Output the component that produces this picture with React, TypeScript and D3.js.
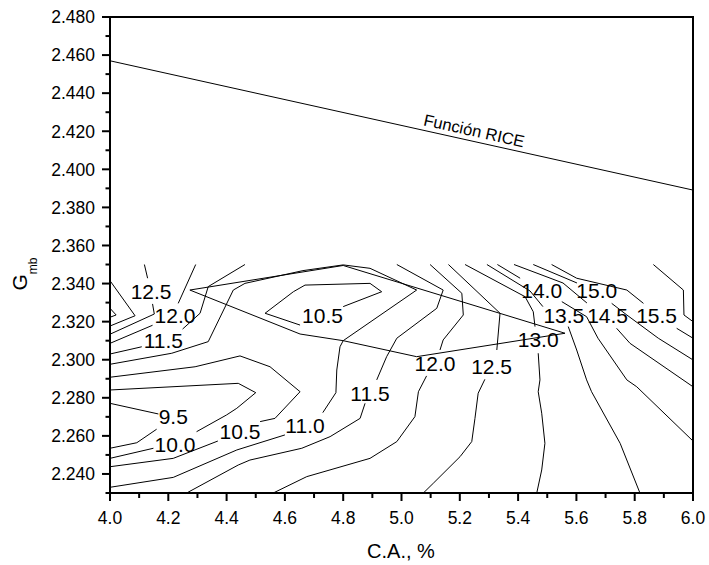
import React from "react";
import * as d3 from "d3";

type Pt = [number, number];

// axis settings
const X_DOMAIN: Pt = [4.0, 6.0];
const Y_DOMAIN: Pt = [2.23, 2.48];
const X_TICKS = [4.0, 4.2, 4.4, 4.6, 4.8, 5.0, 5.2, 5.4, 5.6, 5.8, 6.0];
const Y_TICKS = [2.24, 2.26, 2.28, 2.3, 2.32, 2.34, 2.36, 2.38, 2.4, 2.42, 2.44, 2.46, 2.48];

// RICE function line
const RICE_X = [4.0, 6.0];
const RICE_Y = [2.457, 2.3891];

// contour lines (each level: list of polylines in data units)
const C95: Pt[][] = [
  [[4.0, 2.2771], [4.166, 2.2715]],
  [[4.16, 2.2635], [4.092, 2.2564], [4.0, 2.2535]],
];
const C100: Pt[][] = [
  [[4.0, 2.2482], [4.149, 2.2535]],
  [[4.297, 2.2622], [4.4, 2.271], [4.435, 2.2745], [4.5, 2.2827], [4.44, 2.2876], [4.0, 2.2841]],
];
const C105: Pt[][] = [
  [[4.0, 2.2438], [4.217, 2.2482], [4.37, 2.2573]],
  [[4.515, 2.2675], [4.566, 2.2692], [4.652, 2.2832], [4.549, 2.2963], [4.446, 2.302], [4.292, 2.2963], [4.0, 2.2908]],
  [[4.8, 2.3279], [4.932, 2.3357], [4.892, 2.3401], [4.669, 2.3392], [4.629, 2.3357], [4.532, 2.3244], [4.652, 2.3182]],
];
const C110: Pt[][] = [
  [[4.0, 2.233], [4.217, 2.2382], [4.435, 2.2526], [4.6, 2.2605]],
  [[4.73, 2.2722], [4.775, 2.2827], [4.778, 2.2946], [4.789, 2.3068], [4.8, 2.31], [5.052, 2.3366], [4.892, 2.348], [4.8, 2.3498], [4.662, 2.3468], [4.463, 2.3401], [4.423, 2.3366], [4.337, 2.3095], [4.212, 2.3034], [4.0, 2.2976]],
];
const C115: Pt[][] = [
  [[4.0, 2.303], [4.109, 2.3068]],
  [[4.249, 2.3161], [4.309, 2.3244], [4.337, 2.3384], [4.463, 2.35]],
  [[4.984, 2.35], [5.143, 2.3366], [5.121, 2.327], [4.984, 2.3113], [4.949, 2.3016], [4.915, 2.2894]],
  [[4.875, 2.2771], [4.858, 2.2692], [4.755, 2.2596], [4.658, 2.2535], [4.48, 2.2473], [4.44, 2.2447], [4.263, 2.23]],
];
const C120: Pt[][] = [
  [[4.294, 2.35], [4.234, 2.3296]],
  [[4.146, 2.3181], [4.0, 2.3086]],
  [[5.098, 2.35], [5.207, 2.3349], [5.212, 2.3235], [5.143, 2.3104], [5.132, 2.3051]],
  [[5.086, 2.2915], [5.058, 2.2832], [5.046, 2.2701], [4.984, 2.257], [4.892, 2.2482], [4.675, 2.2386], [4.56, 2.23]],
];
const C125: Pt[][] = [
  [[4.118, 2.35], [4.129, 2.3428]],
  [[4.146, 2.3293], [4.152, 2.324], [4.0, 2.3134]],
  [[5.161, 2.35], [5.338, 2.3244], [5.327, 2.3051]],
  [[5.286, 2.2897], [5.263, 2.2824], [5.252, 2.2692], [5.241, 2.257], [5.201, 2.2491], [5.109, 2.2351], [5.075, 2.23]],
];
const C130: Pt[][] = [
  [[4.0, 2.3415], [4.086, 2.3231], [4.0, 2.3177]],
  [[5.218, 2.35], [5.424, 2.3331], [5.452, 2.3252], [5.458, 2.3174]],
  [[5.469, 2.3034], [5.475, 2.2894], [5.469, 2.2832], [5.481, 2.2719], [5.492, 2.2561], [5.481, 2.2421], [5.464, 2.23]],
];
const C135: Pt[][] = [
  [[4.0, 2.327], [4.021, 2.3235], [4.0, 2.3223]],
  [[5.293, 2.35], [5.441, 2.3361], [5.485, 2.3279]],
  [[5.572, 2.3174], [5.601, 2.3051], [5.635, 2.2894], [5.652, 2.2832], [5.75, 2.2561], [5.818, 2.23]],
];
const C140: Pt[][] = [
  [[5.329, 2.35], [5.407, 2.3428]],
  [[5.55, 2.3305], [5.635, 2.3226], [5.674, 2.3113], [5.773, 2.2894], [5.807, 2.2858], [6.0, 2.2573]],
];
const C145: Pt[][] = [
  [[5.386, 2.35], [5.554, 2.3403], [5.636, 2.3298]],
  [[5.738, 2.3165], [5.784, 2.3086], [6.0, 2.2858]],
];
const C150: Pt[][] = [
  [[5.452, 2.35], [5.602, 2.3403]],
  [[5.721, 2.3296], [5.773, 2.3235], [5.881, 2.3113], [6.0, 2.2999]],
];
const C155: Pt[][] = [
  [[5.515, 2.35], [5.601, 2.3428], [5.773, 2.3366], [5.83, 2.3296]],
  [[5.944, 2.3165], [6.0, 2.3113]],
];
const C160: Pt[][] = [
  [[5.864, 2.35], [5.967, 2.3366], [5.969, 2.3235], [6.0, 2.32]],
];
const CONTOUR_SETS = [C95, C100, C105, C110, C115, C120, C125, C130, C135, C140, C145, C150, C155, C160];

// lens-shaped region outline
const REGION: Pt[] = [[4.274, 2.3366], [4.8, 2.3495], [5.561, 2.3139], [5.052, 2.3016], [4.8, 2.31], [4.652, 2.3135], [4.274, 2.3366]];

// contour labels
const LABEL_TEXT = ["12.5", "12.0", "11.5", "9.5", "10.0", "10.5", "11.0", "10.5", "11.5", "12.0", "12.5", "13.0", "13.5", "14.0", "14.5", "15.0", "15.5"];
const LABEL_X = [4.141, 4.223, 4.183, 4.217, 4.223, 4.446, 4.669, 4.729, 4.892, 5.115, 5.309, 5.469, 5.557, 5.481, 5.707, 5.67, 5.875];
const LABEL_Y = [2.3361, 2.323, 2.3099, 2.2701, 2.2557, 2.2622, 2.2657, 2.3235, 2.2824, 2.2978, 2.2963, 2.3104, 2.3235, 2.3366, 2.3235, 2.3366, 2.3235];

const W = 709;
const H = 565;
const M = { left: 110, right: 693, top: 17, bottom: 493 };
const FONT = "'Liberation Sans', Arial, sans-serif";

export default function App() {
  const x = d3.scaleLinear().domain(X_DOMAIN).range([M.left, M.right]);
  const y = d3.scaleLinear().domain(Y_DOMAIN).range([M.bottom, M.top]);
  const line = d3
    .line<Pt>()
    .x((d) => x(d[0]))
    .y((d) => y(d[1]));

  const xMinor = d3.range(0, 21).map((i) => 4.0 + i * 0.1);
  const yMinor = d3.range(0, 26).map((i) => 2.23 + i * 0.01);

  const riceX0 = x(RICE_X[0]);
  const riceY0 = y(RICE_Y[0]);
  const riceX1 = x(RICE_X[1]);
  const riceY1 = y(RICE_Y[1]);
  const ang = (Math.atan2(riceY1 - riceY0, riceX1 - riceX0) * 180) / Math.PI;
  const lx = x(5.245);
  const ly = riceY0 + ((lx - riceX0) / (riceX1 - riceX0)) * (riceY1 - riceY0);

  return (
    <svg
      width={W}
      height={H}
      style={{ position: "absolute", left: 0, top: 0, background: "#fff" }}
      fontFamily={FONT}
    >
      <rect x={0} y={0} width={W} height={H} fill="#fff" />
      <defs>
        <clipPath id="plot">
          <rect x={M.left} y={M.top} width={M.right - M.left} height={M.bottom - M.top} />
        </clipPath>
      </defs>
      <g clipPath="url(#plot)" fill="none" stroke="#000" strokeWidth={1}>
        <path d={line([[RICE_X[0], RICE_Y[0]], [RICE_X[1], RICE_Y[1]]]) || ""} />
        {CONTOUR_SETS.map((set, i) =>
          set.map((p, j) => <path key={`${i}-${j}`} d={line(p) || ""} strokeLinejoin="miter" />)
        )}
        <path d={line(REGION) || ""} />
      </g>
      {LABEL_TEXT.map((t, i) => (
        <text
          key={i}
          x={x(LABEL_X[i])}
          y={y(LABEL_Y[i])}
          dy="0.36em"
          textAnchor="middle"
          fontSize={21}
          fill="#000"
        >
          {t}
        </text>
      ))}
      <text
        transform={`translate(${lx},${ly - 5}) rotate(${ang})`}
        textAnchor="middle"
        fontSize={16.5}
        fill="#000"
      >
        Función RICE
      </text>
      {/* frame */}
      <rect
        x={M.left}
        y={M.top}
        width={M.right - M.left}
        height={M.bottom - M.top}
        fill="none"
        stroke="#000"
        strokeWidth={2}
      />
      {/* ticks */}
      <g stroke="#000" strokeWidth={2}>
        {xMinor.map((v, i) => (
          <line key={i} x1={x(v)} x2={x(v)} y1={M.bottom} y2={M.bottom + (i % 2 === 0 ? 8 : 5)} />
        ))}
        {yMinor.map((v, i) => (
          <line key={i} y1={y(v)} y2={y(v)} x1={M.left} x2={M.left - (i % 2 === 1 ? 8 : 4.5)} />
        ))}
      </g>
      {X_TICKS.map((v, i) => (
        <text key={i} x={x(v)} y={M.bottom + 31} textAnchor="middle" fontSize={17.5} fill="#000">
          {v.toFixed(1)}
        </text>
      ))}
      {Y_TICKS.map((v, i) => (
        <text key={i} x={M.left - 15} y={y(v)} dy="0.36em" textAnchor="end" fontSize={17.5} fill="#000">
          {v.toFixed(3)}
        </text>
      ))}
      <text x={401} y={558} textAnchor="middle" fontSize={20} fill="#000">
        C.A., %
      </text>
      <text transform="translate(27,274) rotate(-90)" textAnchor="middle" fontSize={21} fill="#000">
        G
        <tspan fontSize={12} dy={10}>
          mb
        </tspan>
      </text>
    </svg>
  );
}
